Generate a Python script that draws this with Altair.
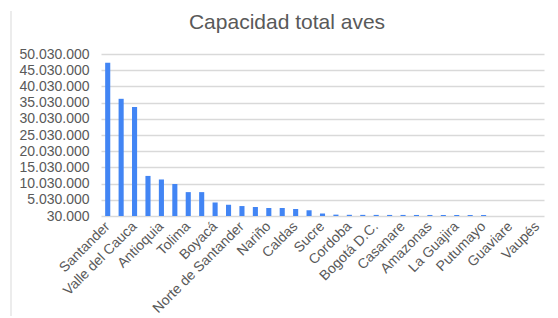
import altair as alt
import pandas as pd

departamentos = [
    "Santander", "Cundinamarca", "Valle del Cauca", "Meta", "Antioquia", "Huila",
    "Tolima", "Risaralda", "Boyacá", "Quindío", "Norte de Santander", "Cauca",
    "Nariño", "Cesar", "Caldas", "Atlántico", "Sucre", "Bolívar", "Cordoba",
    "Magdalena", "Bogotá D.C.", "Caquetá", "Casanare", "Arauca", "Amazonas",
    "Chocó", "La Guajira", "San Andrés", "Putumayo", "Vichada", "Guaviare",
    "Guainía", "Vaupés",
]
capacidad = [
    47300000, 36200000, 33700000, 12400000, 11300000, 9900000,
    7400000, 7400000, 4200000, 3500000, 3100000, 2800000,
    2500000, 2500000, 2200000, 1800000, 800000, 450000, 400000,
    380000, 370000, 360000, 360000, 350000, 350000,
    340000, 340000, 330000, 330000, 20000, 15000,
    10000, 5000,
]
etiquetas = departamentos[::2]
ticks_y = [30000 + 5000000 * k for k in range(11)]

df = pd.DataFrame({"dep": departamentos, "cap": capacidad})

FONT = "Liberation Sans"
GREY = "#595959"

bars = alt.Chart(df).mark_bar(color="#4285F4", clip=True).encode(
    x=alt.X(
        "dep:N", sort=None,
        scale=alt.Scale(paddingInner=0.62, paddingOuter=0.31),
        axis=alt.Axis(
            title=None, values=etiquetas, labelAngle=-45, labelAlign="right",
            labelBaseline="middle", labelPadding=8, ticks=False, domain=False,
            labelFont=FONT, labelFontSize=14, labelColor=GREY, labelOverlap=False,
        ),
    ),
    y=alt.Y(
        "cap:Q",
        scale=alt.Scale(domain=[30000, 50030000], zero=False, nice=False),
        axis=alt.Axis(
            title=None, values=ticks_y, domain=False, ticks=False,
            labelExpr="replace(format(datum.value, ',.0f'), /,/g, '.')",
            labelFont=FONT, labelFontSize=14, labelColor=GREY, labelPadding=12,
            gridColor="#d9d9d9", gridWidth=1.3,
        ),
    ),
)

border = alt.Chart(pd.DataFrame({"a": [0]})).mark_rule(color="#d9d9d9", strokeWidth=1).encode(
    x=alt.value(-90), y=alt.value(-43), y2=alt.value(270)
)

title = alt.Chart(pd.DataFrame({"t": ["Capacidad total aves"]})).mark_text(
    font=FONT, fontSize=21, color=GREY, align="center", baseline="alphabetic"
).encode(text="t:N", x=alt.value(186), y=alt.value(-25))

chart = alt.layer(border, bars, title).properties(
    width=443, height=162,
    padding={"left": 93, "top": 46, "right": 6, "bottom": 100},
    autosize=alt.AutoSizeParams(type="none"),
).configure_view(stroke=None)

chart.save("out.html", embed_options={"renderer": "svg", "actions": False})
